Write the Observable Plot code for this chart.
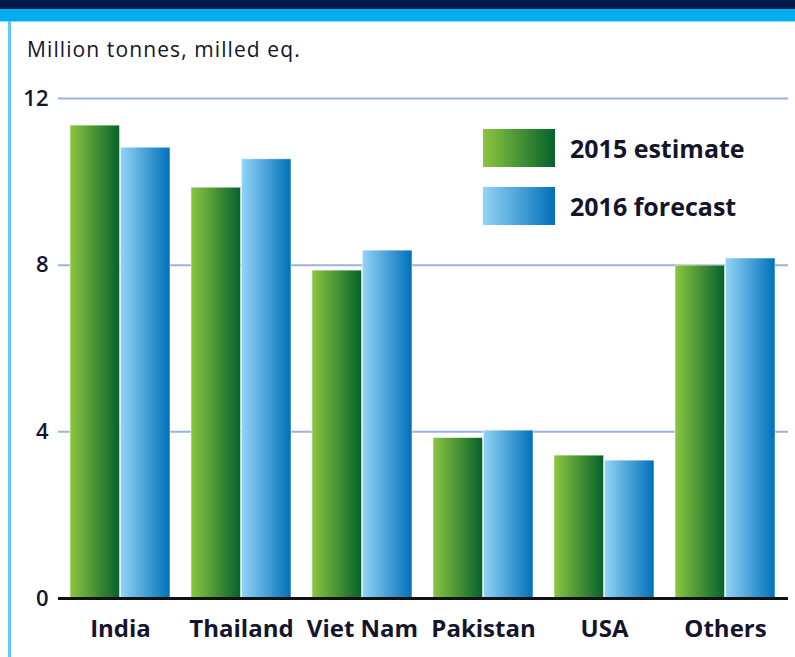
<!DOCTYPE html>
<html>
<head>
<meta charset="utf-8">
<script src="https://cdn.jsdelivr.net/npm/d3@7"></script>
<script src="https://cdn.jsdelivr.net/npm/@observablehq/plot@0.6"></script>
<style>
  html, body { margin: 0; padding: 0; background: #fff; }
  #wrap { position: relative; width: 795px; height: 657px; overflow: hidden; font-family: "Open Sans", sans-serif; color: #14142b; }
  #navy { position: absolute; left: 0; top: 0; width: 795px; height: 9px; background: #001a4b; }
  #cyan { position: absolute; left: 0; top: 9px; width: 795px; height: 12px; background: #00aeef; border-bottom: 1px solid #8fd8f6; }
  #leftline { position: absolute; left: 8px; top: 21px; width: 3px; height: 640px; background: #5ec9f1; }
  #unit { position: absolute; left: 27px; top: 35px; font-size: 21px; letter-spacing: 1.1px; font-weight: 400; white-space: nowrap; }
  #chart { position: absolute; left: 0; top: 70px; }
  .lg { position: absolute; left: 483px; width: 72px; height: 38px; }
  .lgt { position: absolute; left: 570px; font-size: 25px; font-weight: 700; line-height: 38px; white-space: nowrap; }
</style>
</head>
<body>
<div id="wrap">
  <div id="navy"></div>
  <div id="cyan"></div>
  <div id="leftline"></div>
  <div id="unit"></div>
  <div id="chart"></div>
  <div id="legend"></div>
</div>
<script>
const countries = ["India", "Thailand", "Viet Nam", "Pakistan", "USA", "Others"];
const est2015 = [11.35, 9.86, 7.87, 3.85, 3.43, 7.99];
const fc2016 = [10.82, 10.54, 8.35, 4.03, 3.31, 8.16];
const yTicks = [0, 4, 8, 12];
const seriesLabels = ["2015 estimate", "2016 forecast"];
const unitLabel = "Million tonnes, milled eq.";

const rows = countries.map((c, i) => ({country: c, v15: est2015[i], v16: fc2016[i]}));

const W = 795, H = 587, ML = 58, MR = 7, MT = 28, MB = 59;
const padIn = 0.17, padOut = 0.09;
const bw = d3.scaleBand(countries, [ML, W - MR]).paddingInner(padIn).paddingOuter(padOut).bandwidth();

document.getElementById("unit").textContent = unitLabel;

const svg = Plot.plot({
  width: W, height: H,
  marginLeft: ML, marginRight: MR, marginTop: MT, marginBottom: MB,
  style: {fontFamily: "Open Sans, sans-serif", color: "#14142b", background: "transparent"},
  x: {domain: countries, paddingInner: padIn, paddingOuter: padOut, axis: null},
  y: {domain: [0, 12], axis: null},
  marks: [
    Plot.ruleY(yTicks.filter(d => d > 0), {stroke: "#9cb2e0", strokeWidth: 2}),
    Plot.barY(rows, {x: "country", y: "v15", fill: "url(#g15)", insetRight: bw / 2, stroke: "#eef7ee", strokeWidth: 0.6}),
    Plot.barY(rows, {x: "country", y: "v16", fill: "url(#g16)", insetLeft: bw / 2, stroke: "#eef6fb", strokeWidth: 0.6}),
    Plot.ruleY([0], {stroke: "#111", strokeWidth: 3}),
    Plot.axisY({ticks: yTicks, tickSize: 0, tickPadding: 10, fontSize: 22, fontWeight: 600, label: null}),
    Plot.axisX({tickSize: 0, tickPadding: 21, fontSize: 24, fontWeight: 700, label: null})
  ]
});

const defs = d3.select(svg).insert("defs", ":first-child");
function grad(id, c0, c1) {
  const g = defs.append("linearGradient").attr("id", id).attr("x1", "0%").attr("x2", "100%").attr("y1", "0%").attr("y2", "0%");
  g.append("stop").attr("offset", "0%").attr("stop-color", c0);
  g.append("stop").attr("offset", "100%").attr("stop-color", c1);
}
grad("g15", "#8cc63f", "#05612c");
grad("g16", "#93d4f6", "#0070ba");
document.getElementById("chart").appendChild(svg);

const legend = document.getElementById("legend");
const swatchBg = ["linear-gradient(to right, #8cc63f, #05612c)", "linear-gradient(to right, #93d4f6, #0070ba)"];
const tops = [129, 187];
seriesLabels.forEach((s, i) => {
  const sw = document.createElement("div");
  sw.className = "lg"; sw.style.top = tops[i] + "px"; sw.style.background = swatchBg[i];
  legend.appendChild(sw);
  const t = document.createElement("div");
  t.className = "lgt"; t.style.top = tops[i] + "px"; t.textContent = s;
  legend.appendChild(t);
});
</script>
</body>
</html>
